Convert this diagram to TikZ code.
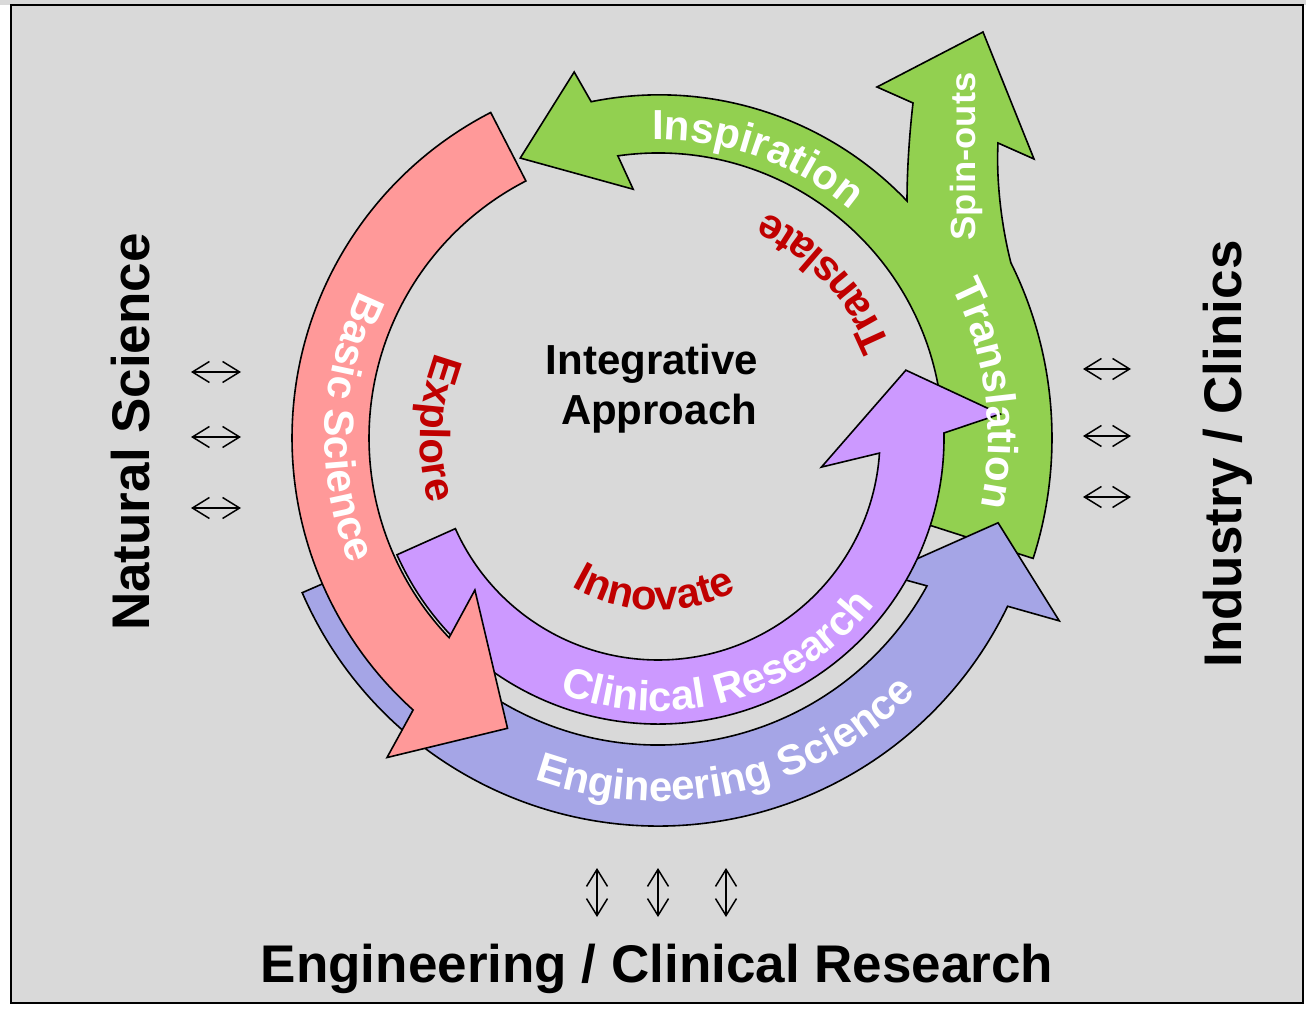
\documentclass[tikz,border=0pt]{standalone}
\usepackage{fontspec}
\setmainfont{Liberation Sans}
\usetikzlibrary{decorations.text, arrows.meta}
\definecolor{bgG}{HTML}{D9D9D9}
\definecolor{pinkF}{HTML}{FF9999}
\definecolor{greenF}{HTML}{92D050}
\definecolor{purpF}{HTML}{CC99FF}
\definecolor{blueF}{RGB}{165,165,230}
\definecolor{redT}{HTML}{C00000}
\newcommand\bandfont{\fontsize{42}{50}\selectfont\bfseries}
\newcommand\spinfont{\fontsize{35}{42}\selectfont\bfseries}
\newcommand\bigfont{\fontsize{53}{60}\selectfont\bfseries}
\begin{document}
\begin{tikzpicture}[x=1pt,y=1pt,
  band/.style={draw=black, line width=1.6pt, line join=miter},
  arclabel/.style n args={2}{decorate, decoration={text along path, text align=center, text color=#1, text={|\bandfont|#2}}},
  bigtext/.style={font=\bigfont, inner sep=0pt},
  midtext/.style={font=\bandfont, inner sep=0pt},
  dbl/.style={line width=1.5pt, {Straight Barb[length=17pt,width=21pt]}-{Straight Barb[length=17pt,width=21pt]}}
]
\useasboundingbox (0,0) rectangle (1306,1010);
\fill[white] (0,0) rectangle (1306,1010);
\fill[bgG] (0,1004.5) rectangle (1306,1010);
\draw[fill=bgG, line width=2pt] (10.5,7) rectangle (1303,1004.5);

\begin{scope}[shift={(658,572)}]
% green: Translation / Spin-outs / Inspiration
\draw[band, fill=greenF] (-17.8:394) arc[start angle=-17.8, end angle=26.4, radius=394]
  .. controls (344,210) and (338,255) .. (340,295)
  -- (376,279) -- (325,406) -- (219,351) -- (255,335)
  .. controls (251,300) and (249,265) .. (249,237)
  arc[start angle=43.6, end angle=101.5, radius=342]
  -- (102.9:375.5) -- (116.2:312) -- (95.7:250) -- (98.1:285)
  arc[start angle=98.1, end angle=-17.8, radius=285] -- cycle;
% blue: Engineering Science
\draw[band, fill=blueF] (203.5:388) arc[start angle=203.5, end angle=334.3, radius=388]
  -- (335.5:441) -- (346:350.5) -- (328.9:263) -- (331.2:307)
  arc[start angle=331.2, end angle=203.5, radius=307] -- cycle;
% purple: Clinical Research
\draw[band, fill=purpF] (204.1:286) arc[start angle=204.1, end angle=361, radius=286]
  -- (364:343) -- (375.3:257) -- (349.9:166) -- (356.1:222)
  arc[start angle=356.1, end angle=204.1, radius=222] -- cycle;
% pink: Basic Science
\draw[band, fill=pinkF] (117.2:366) arc[start angle=117.2, end angle=228, radius=366]
  -- (229.7:419) -- (242.6:327) -- (219.7:238) -- (223.7:289)
  arc[start angle=223.7, end angle=117.2, radius=289] -- cycle;

% labels along arcs
\path[arclabel={white}{Basic Science}] (118:333) arc[start angle=118, end angle=238, radius=333];
\path[arclabel={white}{Engineering Science}] (222.8:363) arc[start angle=222.8, end angle=342.8, radius=363];
\path[arclabel={white}{Clinical Research}] (225.7:273) arc[start angle=225.7, end angle=345.7, radius=273];
\path[arclabel={white}{Inspiration}] (130.5:298) arc[start angle=130.5, end angle=10.5, radius=298];
\path[arclabel={white}{Translation}] (67.7:330) arc[start angle=67.7, end angle=-52.3, radius=330];
\path[arclabel={redT}{Explore}] (117.5:238) arc[start angle=117.5, end angle=237.5, radius=238];
\path[arclabel={redT}{Innovate}] (218.5:172) arc[start angle=218.5, end angle=318.5, radius=172];
\path[arclabel={redT}{Translate}] (-7:250) arc[start angle=-7, end angle=93, radius=250];
\end{scope}

\node[font=\spinfont, text=white, inner sep=0pt, rotate=90, anchor=base] (spin) at (975,853.5) {\scalebox{1.04}[1]{Spin-outs}};
\node[midtext, anchor=base] (integr) at (652,635) {Integrative};
\node[midtext, anchor=base] (approach) at (659,585) {Approach};

\node[bigtext, rotate=90, anchor=base] (natsci) at (149,578) {Natural Science};
\node[bigtext, rotate=90, anchor=base] (indcli) at (1241,556) {Industry / Clinics};
\node[bigtext, anchor=base] (engcli) at (657,28) {Engineering / Clinical Research};

\foreach \n/\yy in {1/638, 2/573, 3/502} {
  \coordinate (la\n) at (191,\yy); \coordinate (lb\n) at (241,\yy);
  \draw[dbl] (la\n) -- (lb\n);
}
\foreach \n/\yy in {1/641, 2/574, 3/513} {
  \coordinate (ra\n) at (1083,\yy); \coordinate (rb\n) at (1131,\yy);
  \draw[dbl] (ra\n) -- (rb\n);
}
\foreach \n/\xx in {1/597, 2/658, 3/726} {
  \coordinate (ba\n) at (\xx,142); \coordinate (bb\n) at (\xx,93);
  \draw[dbl] (ba\n) -- (bb\n);
}
\end{tikzpicture}
\end{document}
